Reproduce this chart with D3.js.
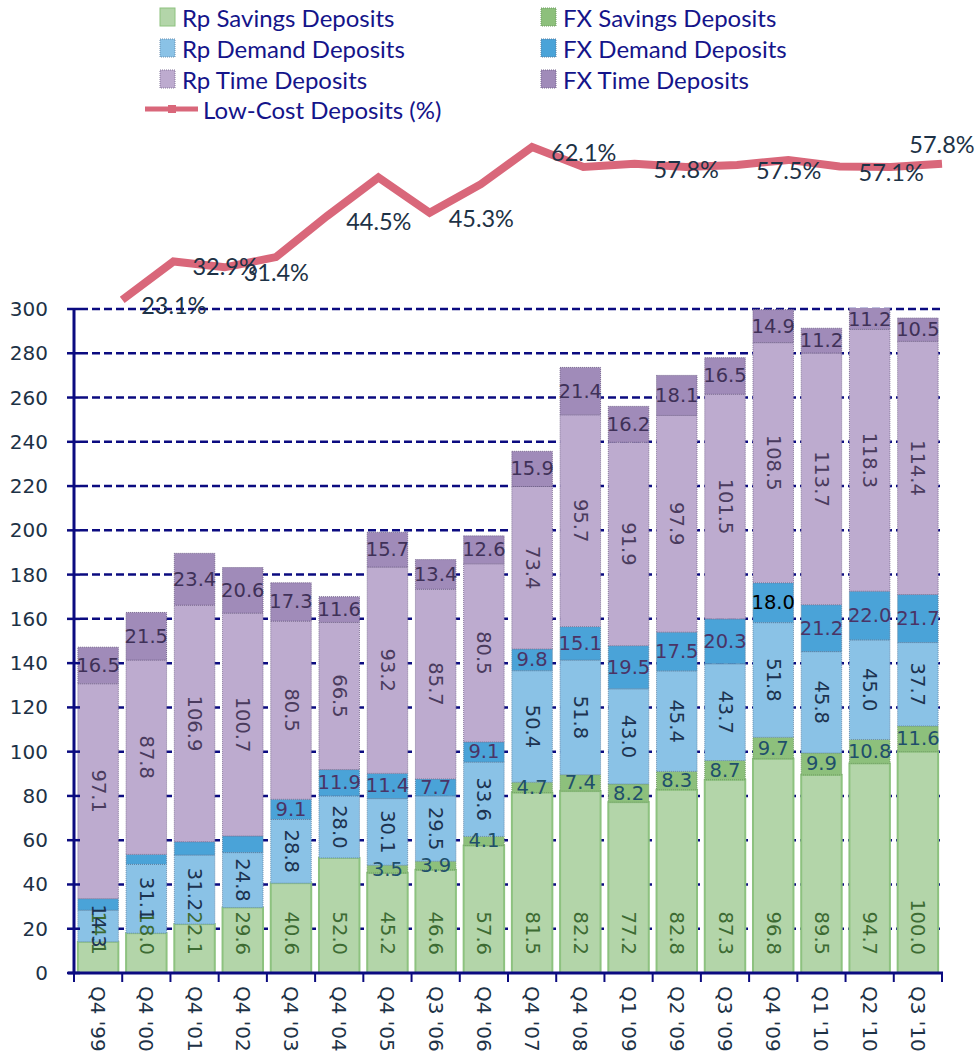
<!DOCTYPE html>
<html>
<head>
<meta charset="utf-8">
<script src="https://cdn.jsdelivr.net/npm/d3@7"></script>
<style>
  body { margin: 0; background: #fff; }
  svg { display: block; }
</style>
</head>
<body>
<div id="chart"></div>
<script>
// quarters on the x axis
var categories = ["Q4 '99", "Q4 '00", "Q4 '01", "Q4 '02", "Q4 '03", "Q4 '04", "Q4 '05", "Q3 '06", "Q4 '06",
    "Q4 '07", "Q4 '08", "Q1 '09", "Q2 '09", "Q3 '09", "Q4 '09", "Q1 '10", "Q2 '10", "Q3 '10"];

// deposits, Rp trillion
var rpSavings = [14.1, 18.0, 22.1, 29.6, 40.6, 52.0, 45.2, 46.6, 57.6, 81.5, 82.2, 77.2, 82.8, 87.3, 96.8, 89.5, 94.7, 100.0];
var fxSavings = [0, 0, 0, 0, 0, 0, 3.5, 3.9, 4.1, 4.7, 7.4, 8.2, 8.3, 8.7, 9.7, 9.9, 10.8, 11.6];
var rpDemand = [14.3, 31.1, 31.2, 24.8, 28.8, 28.0, 30.1, 29.5, 33.6, 50.4, 51.8, 43.0, 45.4, 43.7, 51.8, 45.8, 45.0, 37.7];
var fxDemand = [5.2, 4.5, 6.0, 7.5, 9.1, 11.9, 11.4, 7.7, 9.1, 9.8, 15.1, 19.5, 17.5, 20.3, 18.0, 21.2, 22.0, 21.7];
var rpTime = [97.1, 87.8, 106.9, 100.7, 80.5, 66.5, 93.2, 85.7, 80.5, 73.4, 95.7, 91.9, 97.9, 101.5, 108.5, 113.7, 118.3, 114.4];
var fxTime = [16.5, 21.5, 23.4, 20.6, 17.3, 11.6, 15.7, 13.4, 12.6, 15.9, 21.4, 16.2, 18.1, 16.5, 14.9, 11.2, 11.2, 10.5];

// low-cost deposits line (17 points, as plotted)
var lowCost = [23.1, 32.9, 31.4, 34.0, 44.5, 54.3, 45.3, 52.6, 62.1, 57.0, 57.8, 57.0, 57.5, 58.8, 57.1, 57.0, 57.8];
var lowCostLabelled = [0, 1, 2, 4, 6, 8, 10, 12, 14, 16];

var yTicks = d3.range(0, 301, 20);

var series = [
    { name: "Rp Savings Deposits", values: rpSavings, fill: "#b3d5a9", stroke: "#8dc27f", dash: null, text: "#3d6b33", rotate: true, base: true },
    { name: "FX Savings Deposits", values: fxSavings, fill: "#8dc07c", stroke: "#6f9a62", dash: "1,1", text: "#1f4f6b", rotate: false },
    { name: "Rp Demand Deposits", values: rpDemand, fill: "#8ac2e6", stroke: "#6a8fb0", dash: "1,1", text: "#1c3350", rotate: true },
    { name: "FX Demand Deposits", values: fxDemand, fill: "#4aa3d8", stroke: "#5a7fa0", dash: "1,1", text: "#4a3466", rotate: false, skip: 4 },
    { name: "Rp Time Deposits", values: rpTime, fill: "#bdabcf", stroke: "#85769a", dash: "1,1", text: "#4a3b5e", rotate: true },
    { name: "FX Time Deposits", values: fxTime, fill: "#a08bb9", stroke: "#76668e", dash: "1,1", text: "#3f3158", rotate: false }
];

var width = 976, height = 1060;
var plot = { left: 74, right: 942, top: 309, bottom: 973 };
var navy = "#0b0b80";

var svg = d3.select("#chart").append("svg")
    .attr("width", width)
    .attr("height", height);

var x = d3.scaleBand()
    .domain(categories)
    .range([plot.left, plot.right])
    .paddingInner(0.14)
    .paddingOuter(0.07);

var y = d3.scaleLinear()
    .domain([0, 300])
    .range([plot.bottom, plot.top]);

// secondary scale for the % line
var y2 = d3.scaleLinear()
    .domain([20, 70])
    .range([312, 116]);

var xLine = d3.scaleLinear()
    .domain([0, lowCost.length - 1])
    .range([plot.left + x.step(), plot.right]);

// gridlines
svg.append("g")
    .selectAll("line")
    .data(yTicks.filter(function(d) { return d > 0; }))
    .enter().append("line")
    .attr("x1", plot.left + 6)
    .attr("x2", plot.right)
    .attr("y1", function(d) { return y(d); })
    .attr("y2", function(d) { return y(d); })
    .attr("stroke", navy)
    .attr("stroke-width", 2.5)
    .attr("stroke-dasharray", "8,4");

svg.append("defs").append("clipPath")
    .attr("id", "plotclip")
    .append("rect")
    .attr("x", plot.left)
    .attr("y", plot.top - 1)
    .attr("width", plot.right - plot.left)
    .attr("height", plot.bottom - plot.top + 1);

// stack
var rows = categories.map(function(c, i) {
    var r = { cat: c };
    series.forEach(function(s) { r[s.name] = s.values[i]; });
    return r;
});
var stacked = d3.stack().keys(series.map(function(s) { return s.name; }))(rows);

var bars = svg.append("g").attr("clip-path", "url(#plotclip)");
stacked.forEach(function(layer, k) {
    var s = series[k];
    bars.append("g")
        .selectAll("rect")
        .data(layer.filter(function(d) { return d[1] - d[0] > 0; }))
        .enter().append("rect")
        .attr("x", function(d) { return x(d.data.cat) + 0.5; })
        .attr("width", x.bandwidth() - 1)
        .attr("y", function(d) { return y(d[1]); })
        .attr("height", function(d) { return y(d[0]) - y(d[1]); })
        .attr("fill", s.fill)
        .attr("stroke", s.stroke)
        .attr("stroke-width", s.dash ? 1 : 2)
        .attr("stroke-dasharray", s.dash);
});

// bar labels
var labels = svg.append("g")
    .style("font-family", "'DejaVu Sans', Verdana, sans-serif")
    .style("font-size", "19.5px");
stacked.forEach(function(layer, k) {
    var s = series[k];
    layer.forEach(function(d, i) {
        var v = d[1] - d[0];
        if (v <= 0) return;
        if (s.skip && i < s.skip) return;
        var cx = x(d.data.cat) + x.bandwidth() / 2;
        var top = Math.max(y(d[1]), plot.top);
        var cy = (y(d[0]) + top) / 2;
        var t = labels.append("text")
            .text(v.toFixed(1))
            .attr("fill", (s.name == "FX Demand Deposits" && i == 14) ? "#000" : s.text)
            .attr("text-anchor", s.base ? "end" : "middle")
            .attr("dominant-baseline", "central");
        if (s.rotate) {
            var ty = s.base ? y(d[0]) - 18 : cy;
            t.attr("transform", "translate(" + cx + "," + ty + ") rotate(90)");
        } else {
            t.attr("x", cx).attr("y", cy);
        }
    });
});

// axes
svg.append("line")
    .attr("x1", plot.left).attr("x2", plot.left)
    .attr("y1", plot.top).attr("y2", plot.bottom + 1)
    .attr("stroke", navy).attr("stroke-width", 3);
svg.append("line")
    .attr("x1", plot.left - 6).attr("x2", plot.right + 1)
    .attr("y1", plot.bottom).attr("y2", plot.bottom)
    .attr("stroke", navy).attr("stroke-width", 3);

svg.append("g")
    .selectAll("line")
    .data(yTicks)
    .enter().append("line")
    .attr("x1", plot.left - 7).attr("x2", plot.left + 6)
    .attr("y1", function(d) { return y(d); })
    .attr("y2", function(d) { return y(d); })
    .attr("stroke", navy).attr("stroke-width", 2.5);

svg.append("g")
    .selectAll("text")
    .data(yTicks)
    .enter().append("text")
    .attr("x", 48)
    .attr("y", function(d) { return y(d); })
    .attr("dominant-baseline", "central")
    .attr("text-anchor", "end")
    .style("font-family", "'DejaVu Sans', Verdana, sans-serif")
    .style("font-size", "20px")
    .attr("fill", "#1d3246")
    .text(function(d) { return d; });

// x ticks at band edges
svg.append("g")
    .selectAll("line")
    .data(d3.range(categories.length + 1))
    .enter().append("line")
    .attr("x1", function(i) { return plot.left + i * x.step(); })
    .attr("x2", function(i) { return plot.left + i * x.step(); })
    .attr("y1", plot.bottom)
    .attr("y2", plot.bottom + 9)
    .attr("stroke", navy).attr("stroke-width", 2);

svg.append("g")
    .selectAll("text")
    .data(categories)
    .enter().append("text")
    .attr("transform", function(d) {
        return "translate(" + (x(d) + x.bandwidth() / 2) + "," + (plot.bottom + 13) + ") rotate(90)";
    })
    .attr("dominant-baseline", "central")
    .style("font-family", "'DejaVu Sans', Verdana, sans-serif")
    .style("font-size", "20px")
    .attr("fill", "#1d3246")
    .text(function(d) { return d; });

// low-cost line
var line = d3.line()
    .x(function(d, i) { return xLine(i); })
    .y(function(d) { return y2(d); });

svg.append("path")
    .datum(lowCost)
    .attr("d", line)
    .attr("fill", "none")
    .attr("stroke", "#d9677a")
    .attr("stroke-width", 8)
    .attr("stroke-linejoin", "miter");

svg.append("g")
    .selectAll("text")
    .data(lowCostLabelled)
    .enter().append("text")
    .attr("x", function(i) { return i == lowCost.length - 1 ? xLine(i) : xLine(i) + 19; })
    .attr("y", function(i) { return i == lowCost.length - 1 ? y2(lowCost[i]) - 20 : y2(lowCost[i]) + 5; })
    .attr("text-anchor", function(i) { return i == lowCost.length - 1 ? "middle" : "start"; })
    .attr("dominant-baseline", "central")
    .style("font-family", "Lato, 'Open Sans', sans-serif")
    .style("font-size", "23.5px")
    .attr("fill", "#1d3246")
    .text(function(i) { return lowCost[i].toFixed(1) + "%"; });

// legend
var legend = svg.append("g")
    .style("font-family", "Lato, 'Open Sans', sans-serif")
    .style("font-size", "24px");

series.forEach(function(s, k) {
    var col = k % 2, row = Math.floor(k / 2);
    var lx = col == 0 ? 160 : 541;
    var ly = 17 + row * 31;
    legend.append("rect")
        .attr("x", lx).attr("y", ly - 9)
        .attr("width", 15).attr("height", 18)
        .attr("fill", s.fill)
        .attr("stroke", s.stroke)
        .attr("stroke-width", 1)
        .attr("stroke-dasharray", s.dash);
    legend.append("text")
        .attr("x", lx + 22).attr("y", ly)
        .attr("dominant-baseline", "central")
        .attr("fill", "#14148a")
        .text(s.name);
});

legend.append("line")
    .attr("x1", 145).attr("x2", 198)
    .attr("y1", 109).attr("y2", 109)
    .attr("stroke", "#d9677a").attr("stroke-width", 5);
legend.append("rect")
    .attr("x", 168).attr("y", 105)
    .attr("width", 8).attr("height", 8)
    .attr("fill", "#d9677a");
legend.append("text")
    .attr("x", 203).attr("y", 109)
    .attr("dominant-baseline", "central")
    .attr("fill", "#14148a")
    .text("Low-Cost Deposits (%)");
</script>
</body>
</html>
